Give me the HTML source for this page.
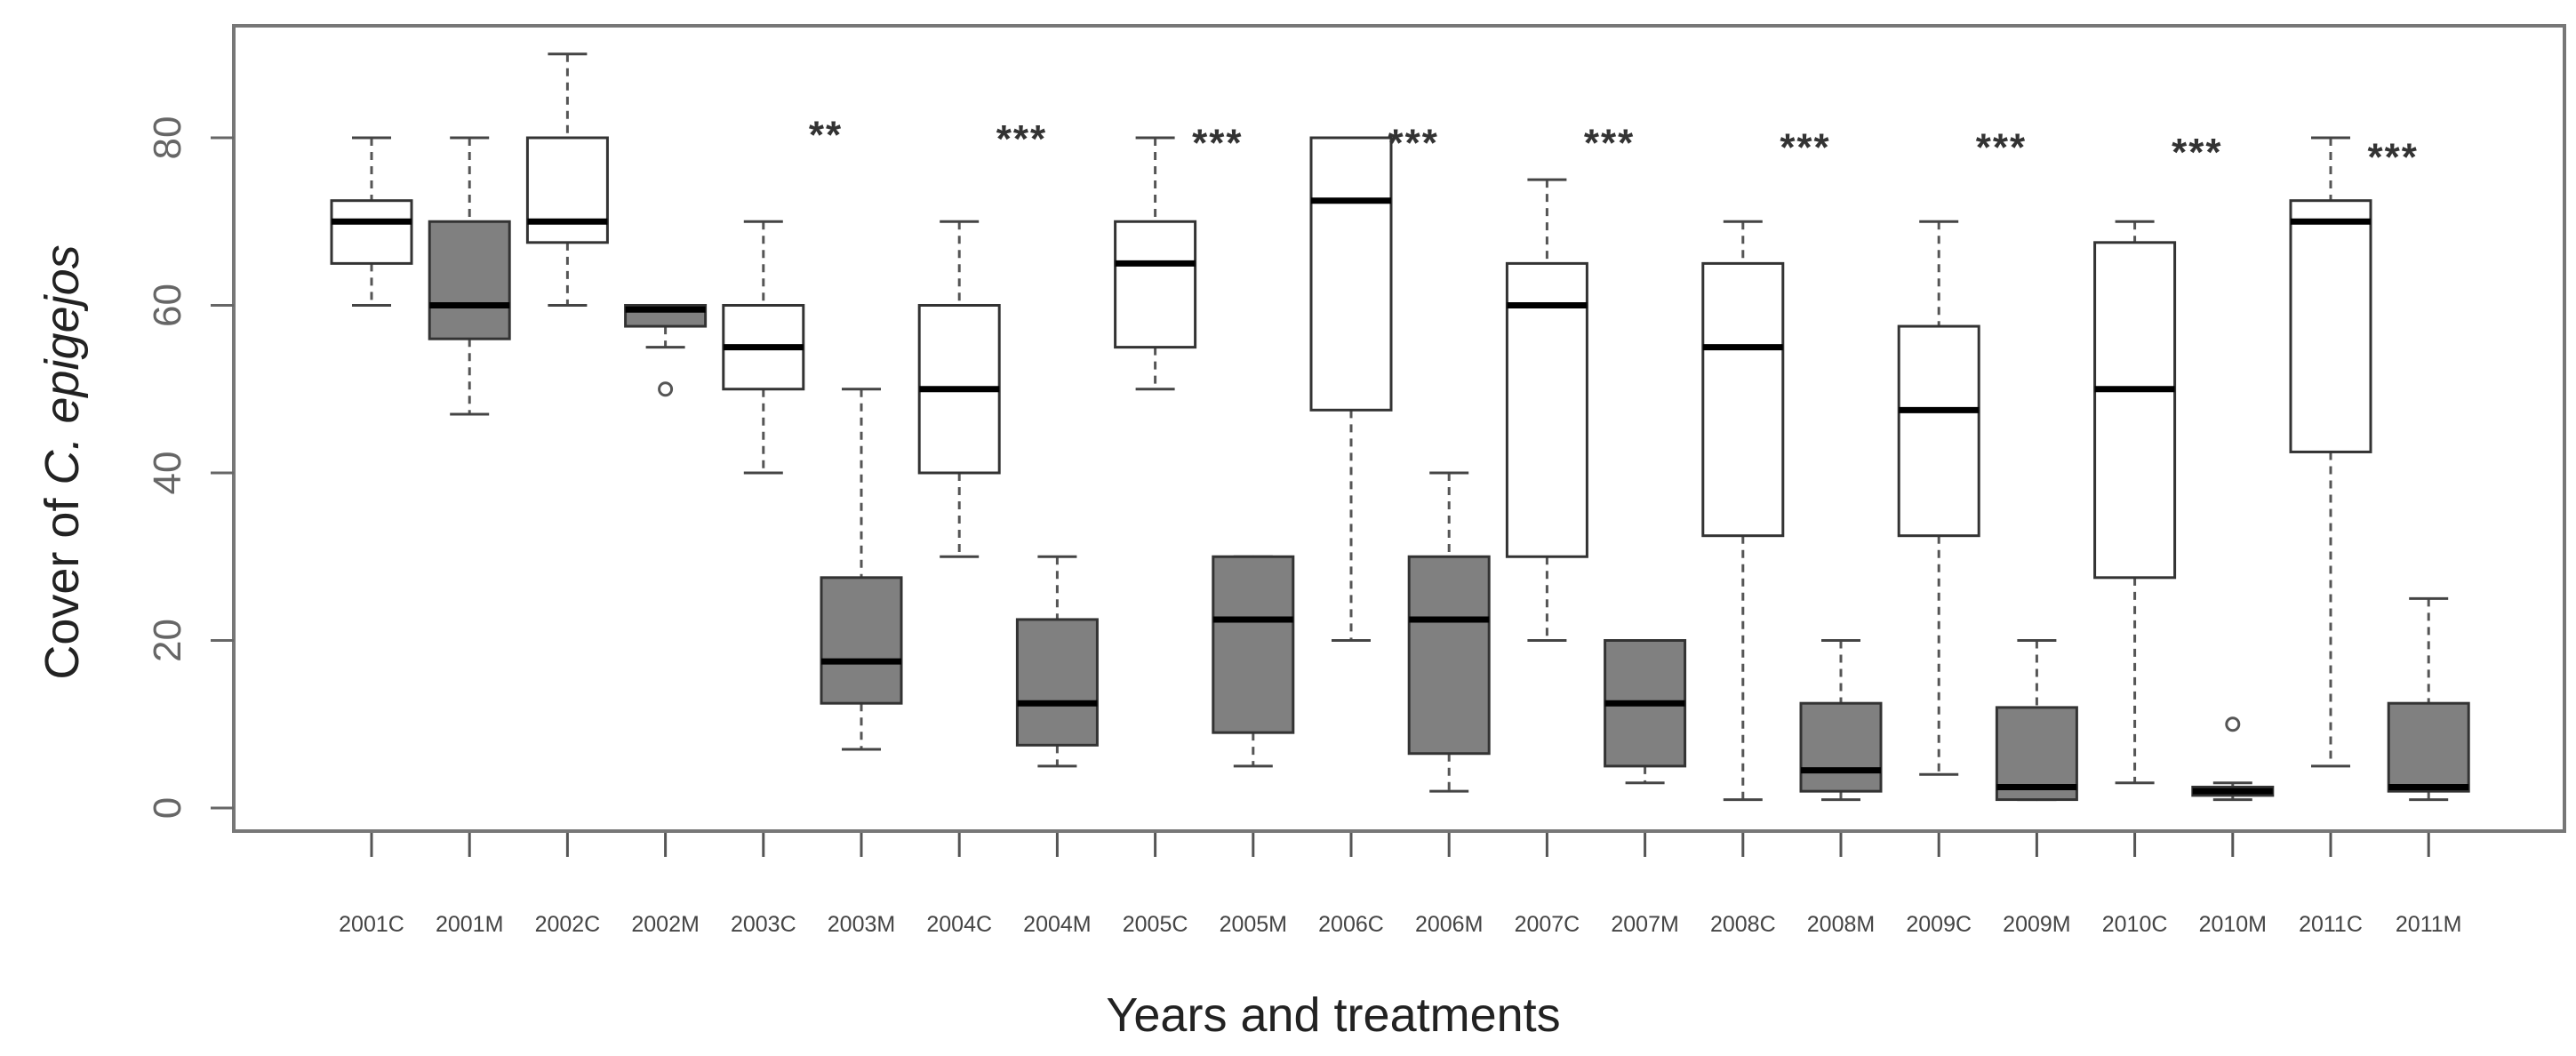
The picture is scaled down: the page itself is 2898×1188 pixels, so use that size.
<!DOCTYPE html>
<html><head><meta charset="utf-8"><style>
html,body{margin:0;padding:0;background:#fff;}
svg{display:block;font-family:"Liberation Sans",sans-serif;}
</style></head><body>
<svg id="chart" width="2898" height="1188" viewBox="0 0 2898 1188" xmlns="http://www.w3.org/2000/svg">
<rect x="263" y="29" width="2622" height="906" fill="none" stroke="#777" stroke-width="4"/>
<g id="yaxis"></g>
<g id="xaxis"></g>
<g id="boxes"></g>
<g id="stars"></g>
<text x="1500" y="1160" font-size="54" text-anchor="middle" fill="#222">Years and treatments</text>
<text transform="translate(88,520) rotate(-90)" font-size="54" text-anchor="middle" fill="#222">Cover of <tspan font-style="italic">C. epigejos</tspan></text>
</svg>
<script>
const categories=["2001C","2001M","2002C","2002M","2003C","2003M","2004C","2004M","2005C","2005M","2006C","2006M","2007C","2007M","2008C","2008M","2009C","2009M","2010C","2010M","2011C","2011M"];
const whiskerLow=[60,47,60,55,40,7,30,5,50,5,20,2,20,3,1,1,4,1,3,1,5,1];
const q1=[65,56,67.5,57.5,50,12.5,40,7.5,55,9,47.5,6.5,30,5,32.5,2,32.5,1,27.5,1.5,42.5,2];
const medians=[70,60,70,59.5,55,17.5,50,12.5,65,22.5,72.5,22.5,60,12.5,55,4.5,47.5,2.5,50,2,70,2.5];
const q3=[72.5,70,80,60,60,27.5,60,22.5,70,30,80,30,65,20,65,12.5,57.5,12,67.5,2.5,72.5,12.5];
const whiskerHigh=[80,80,90,60,70,50,70,30,80,30,80,40,75,20,70,20,70,20,70,3,80,25];
const outliers=[[3,50],[19,10]];
const yTicks=[0,20,40,60,80];
const starLabels=["**","***","***","***","***","***","***","***","***"];
const starCategoryIdx=[5,7,9,11,13,15,17,19,21];
const starValues=[80.5,80,79.5,79.5,79.5,79,79,78.4,77.8];

const NS="http://www.w3.org/2000/svg";
const y=v=>909-v*9.425;
const x=i=>418+i*110.2;
function mk(tag,attrs,parent){const e=document.createElementNS(NS,tag);for(const k in attrs)e.setAttribute(k,attrs[k]);parent.appendChild(e);return e;}
const gy=document.getElementById('yaxis'),gx=document.getElementById('xaxis'),gb=document.getElementById('boxes'),gs=document.getElementById('stars');
yTicks.forEach(t=>{
  const l=mk('line',{x1:237,x2:263,y1:y(t),y2:y(t),stroke:'#666','stroke-width':3},gy);
  
  
  const tx=mk('text',{transform:`translate(203,${y(t)}) rotate(-90)`,'font-size':44,'text-anchor':'middle',fill:'#666'},gy);
  
  
  tx.textContent=t;
});
categories.forEach((c,i)=>{
  const cx=x(i),w=90,isM=c.endsWith('M');
  const tk=mk('line',{x1:cx,x2:cx,y1:937,y2:964,stroke:'#555','stroke-width':3},gx);
  
  
  const lb=mk('text',{x:cx,y:1048,'font-size':25,'text-anchor':'middle',fill:'#444'},gx);
  
  
  lb.textContent=c;
  const g=mk('g',{},gb);
  
  
  mk('line',{x1:cx,x2:cx,y1:y(whiskerHigh[i]),y2:y(q3[i]),stroke:'#555','stroke-width':3,'stroke-dasharray':'9,7'},g);
  mk('line',{x1:cx,x2:cx,y1:y(q1[i]),y2:y(whiskerLow[i]),stroke:'#555','stroke-width':3,'stroke-dasharray':'9,7'},g);
  mk('line',{x1:cx-22,x2:cx+22,y1:y(whiskerHigh[i]),y2:y(whiskerHigh[i]),stroke:'#444','stroke-width':3},g);
  mk('line',{x1:cx-22,x2:cx+22,y1:y(whiskerLow[i]),y2:y(whiskerLow[i]),stroke:'#444','stroke-width':3},g);
  mk('rect',{x:cx-w/2,y:y(q3[i]),width:w,height:Math.max(1,y(q1[i])-y(q3[i])),fill:isM?'#808080':'#fff',stroke:'#333','stroke-width':3},g);
  mk('line',{x1:cx-w/2,x2:cx+w/2,y1:y(medians[i]),y2:y(medians[i]),stroke:'#000','stroke-width':7},g);
});
outliers.forEach(o=>{
  const c=mk('circle',{cx:x(o[0]),cy:y(o[1]),r:7,fill:'none',stroke:'#555','stroke-width':3},gb);
  
  
});
starLabels.forEach((s,k)=>{
  const t=mk('text',{x:x(starCategoryIdx[k])-40,y:y(starValues[k])+16,'font-size':44,'font-weight':'bold','text-anchor':'middle',fill:'#333','letter-spacing':'2'},gs);
  
  
  t.textContent=s;
});
</script>
</body></html>
